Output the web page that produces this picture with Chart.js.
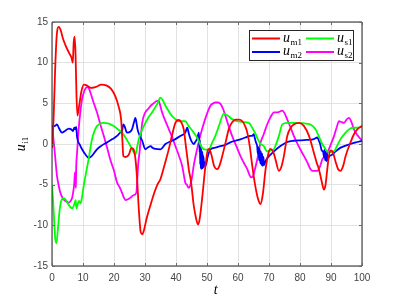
<!DOCTYPE html>
<html><head><meta charset="utf-8">
<script src="https://cdn.jsdelivr.net/npm/chart.js@4/dist/chart.umd.min.js"></script>
<style>html,body{margin:0;padding:0;background:#fff;}canvas{display:block;}</style>
</head><body>
<canvas id="c" width="399" height="299"></canvas>
<script>
const xTicks = [0,10,20,30,40,50,60,70,80,90,100];
const yTicks = [-15,-10,-5,0,5,10,15];
const seriesLabels = ['u_m1','u_s1','u_m2','u_s2'];
const xTitle = 't';
const yTitle = 'u_i1';

const tM1 = [0,0.5,1.0,1.5,2.2,2.8,3.5,4.5,5.5,6.3,6.7,7.0,7.3,7.6,7.9,8.2,8.8,9.5,10.3,11.2,12.5,14,16,17.5,19,20.5,21.5,22.3,22.7,23.0,23.8,24.8,25.6,26.2,26.8,27.4,28.0,28.6,29.1,29.6,30.5,31.7,33,34,35,36.5,37.7,38.8,39.8,40.9,41.8,42.5,43.2,43.7,44.2,44.8,45.7,46.5,47.1,47.6,48.4,49.0,49.5,50.1,50.7,51.4,52.3,53.3,54.1,54.9,56.0,57.0,58.0,59.2,60.3,61.4,62.3,63.0,63.8,64.6,65.5,66.5,67.3,68.0,68.9,69.6,70.4,71.3,72.1,73.2,74.0,74.8,75.9,77.0,78.0,79.7,81.3,82.9,84.5,85.3,86.1,87.0,87.7,88.2,88.8,89.3,89.9,90.6,91.5,92.3,93.1,94.0,94.7,96.3,97.4,98.5,100];
const uM1 = [-0.5,3,9,13.2,14.4,14.0,13.0,12.0,11.2,10.6,10.0,12.5,13.2,11,6,3.5,4.8,6.5,7.3,7.2,6.9,7.0,7.3,7.2,6.8,5.8,4.6,3.0,0.5,-1.5,-1.6,-1.3,-0.5,-0.6,-1.5,-4,-8,-10.8,-11.1,-10.7,-9.2,-7.6,-6,-5,-4.3,-2.3,-0.6,1.2,2.6,2.95,2.6,1.8,-0.3,-1.8,-3.3,-4.5,-7.5,-9.2,-9.9,-9.3,-6.8,-4.5,-2.7,-1.0,-0.6,-1.3,-2.7,-3.1,-2.6,-1.5,0.2,1.8,2.6,3.0,3.0,2.8,2.2,1.4,-0.3,-2.7,-5,-6.8,-7.4,-6.2,-3.1,-1.5,-0.6,-0.9,-1.9,-3.3,-2.8,-1.5,1.0,2.0,2.4,2.6,2.2,1.0,-1.1,-2.2,-3.1,-4.6,-5.6,-5.1,-3.1,-1.5,-0.8,-1.0,-2.2,-3.1,-3.3,-2.6,-1.5,0.2,1.2,1.8,2.2];

const tS1 = [0,0.5,1.0,1.4,1.9,2.5,3.2,4.0,4.8,5.6,6.5,7.2,7.6,7.9,8.3,8.7,9.2,9.7,10.2,11.0,11.8,12.9,13.7,14.5,15.5,16.7,18.3,19.9,21.3,22.6,24.0,25.3,26.2,26.9,27.4,28.0,28.8,29.6,31.0,32.3,33.9,35.0,35.7,36.6,37.7,38.8,40.0,40.9,43.0,44.1,45.5,46.8,48.4,49.5,50.6,51.6,52.7,54.0,55.4,56.2,57.0,58.3,59.7,61.5,63.5,64.6,65.7,66.5,67.3,68.3,69.4,70.5,71.6,72.4,73.2,74.3,75.9,78,80,82,83.4,85.0,86.0,87.2,88.0,88.8,90.0,91.0,92.0,93.1,94.5,95.8,97.0,98.5,100];
const uS1 = [-5,-8,-11.5,-12.2,-10.5,-8,-6.8,-6.7,-7.1,-7.6,-7.9,-7.4,-6.9,-7.9,-7.4,-7.0,-7.3,-6.5,-5.2,-3.5,-1.9,0.6,1.6,2.2,2.5,2.6,2.5,2.2,1.8,1.4,0.6,-0.25,-0.9,-1.3,-0.5,0.6,1.5,2.2,3.2,3.9,4.9,5.7,5.4,4.7,4.0,3.4,3.0,2.8,2.8,2.2,1.5,0.8,-0.45,-0.7,-0.65,0.1,1.0,2.4,3.7,3.6,3.4,3.0,2.8,2.7,2.6,2.0,1.2,0.5,0,-0.25,-0.9,-0.8,-0.65,0.1,1.0,2.4,2.6,2.6,2.6,2.5,2.4,1.8,1.0,0,-0.5,-0.9,-1.0,-0.9,-0.2,0.6,1.3,1.8,2.0,2.0,2.2];

const tM2 = [0,0.8,1.6,2.3,3.2,4.2,5.4,6.2,6.8,7.2,7.5,7.8,8.1,9.0,9.7,10.8,11.8,12.8,14.5,16.0,17.8,19.5,21.0,22.0,22.6,23.0,23.4,24.0,24.4,25.2,25.8,26.4,26.9,27.3,27.6,28.3,29.1,30.1,31.0,31.8,32.5,33.4,35.0,36.6,38.2,39.8,41.5,43.0,43.6,44.2,44.7,45.7,46.3,46.8,47.4,47.6,47.7,47.8,47.9,48.0,48.1,48.2,48.3,48.4,48.5,48.6,48.7,48.8,48.9,49.0,49.2,49.5,50.2,51.1,52.7,54.0,56.0,57.5,59.2,61.0,62.4,64.0,64.6,65.1,65.5,65.8,66.2,66.4,66.6,66.8,67.0,67.2,67.4,67.6,67.8,68.0,68.2,68.4,68.8,69.3,70.0,71.6,73.7,75.9,78,80.2,82,84.5,85.6,86.1,86.5,87.0,87.5,87.7,87.9,88.1,88.3,88.5,88.7,88.9,89.3,90.4,91.5,93.1,96.3,98,100];
const uM2 = [2.2,2.2,2.4,1.9,1.4,1.6,1.9,1.8,1.6,2.0,1.8,2.1,0.8,-0.1,-0.65,-1.3,-1.7,-1.5,-0.65,-0.2,0.2,0.6,1.0,1.4,1.6,2.4,2.2,1.5,1.4,1.5,1.8,2.6,3.2,2.5,1.8,1.0,0.4,-0.65,-0.4,-0.25,-0.5,-0.6,-0.65,0,0.3,0.6,1.0,1.4,2.0,1.2,0.6,0,0.3,0.6,1.4,-1.0,0.5,-2.5,0,-3.0,-0.5,-3.1,-0.8,-3.0,-1.0,-3.0,-1.3,-2.9,-1.6,-2.8,-2.2,-2.7,-1.6,-0.65,-0.45,-0.3,-0.1,0.2,0.4,0.6,0.8,1.0,1.0,1.2,0.6,0.2,-0.3,-1.2,-0.4,-2.0,-0.6,-2.4,-0.9,-2.6,-1.2,-2.7,-1.6,-2.6,-2.2,-1.8,-1.5,-0.9,-0.25,0.25,0.4,0.45,0.5,0.6,0.8,0.4,0,-0.8,-1.0,-1.6,-0.7,-2.0,-0.9,-2.1,-1.2,-2.0,-1.6,-1.3,-0.9,-0.45,0,0.2,0.4];

const tS2 = [0,0.5,1.0,1.6,2.2,2.7,3.5,4.3,5.4,6.0,6.5,7.0,7.2,7.4,7.6,7.7,7.8,8.1,8.6,9.1,9.7,10.5,11.3,11.8,12.5,13.5,14.5,15.6,16.7,17.8,18.8,20.0,21.0,21.8,22.6,23.2,23.7,24.5,25.3,26.3,27.2,27.5,27.8,28.3,28.6,29.1,30.1,31.0,31.8,32.8,33.9,34.4,35.0,35.5,36.5,37.7,38.8,39.8,41.0,42.0,43.0,43.5,44.1,44.6,45.2,45.7,46.3,47.3,48.4,49.7,51.1,52.0,52.7,53.5,54.4,55.2,56.0,57.0,58.1,59.5,60.8,62.0,63.0,63.6,64.2,64.8,65.4,66.2,67.3,68.3,69.4,70.5,71.6,72.8,74.3,75.0,75.9,77.0,78.0,79.6,81.3,82.4,83.4,84.0,85.6,86.4,87.2,88.0,88.8,90.0,91.0,91.8,92.6,93.4,94.2,95.0,95.8,96.6,97.4,98.5,99.6,100];
const uS2 = [2.2,0.5,-1.5,-3.9,-5.2,-6.0,-6.7,-7.0,-7.2,-7.0,-6.6,-5.5,-4.75,-3.5,-4.0,-5.4,-3.0,-1.0,1.8,3.8,5.5,6.6,7.0,6.9,6.2,5.0,3.9,2.4,1.0,-0.5,-1.9,-3.3,-4.75,-5.3,-6.0,-6.6,-6.9,-6.8,-6.6,-6.3,-6.0,-4.5,-2.5,-0.8,0.6,2.6,3.9,4.3,4.7,5.0,5.3,5.3,4.6,3.9,2.9,1.8,0.8,-0.25,-1.5,-2.7,-4.75,-5.0,-5.4,-5.1,-4.0,-2.7,-1.5,0.2,1.8,3.4,4.7,5.0,5.1,5.1,4.9,4.3,3.4,2.2,1.0,-0.3,-1.5,-2.4,-3.1,-3.7,-4.1,-4.0,-3.2,-1.9,0.2,1.2,2.4,3.3,3.9,3.9,4.1,3.8,3.0,2.0,1.0,-0.3,-1.5,-2.3,-3.1,-3.3,-3.3,-2.8,-1.9,-1.5,-1.1,0,1.0,2.0,2.8,2.7,2.6,3.0,3.2,2.7,1.8,1.1,0.6,0.5];

const seriesColors = ['#ff0000','#00ff00','#0000ff','#ff00ff'];

function pts(t, v){ return t.map((x,i)=>({x:x, y:v[i]})); }
const seriesData = [pts(tM1,uM1), pts(tS1,uS1), pts(tM2,uM2), pts(tS2,uS2)];

const AXC = '#262626';
const sansFont = "'Liberation Sans', Arial, sans-serif";
const serifFont = "'Liberation Serif', 'DejaVu Serif', serif";

function drawSubLabel(ctx, label, x, y, mainSize, subSize, subDrop, align){
  const parts = label.split('_');
  ctx.font = 'italic ' + mainSize + 'px ' + serifFont;
  const w1 = ctx.measureText(parts[0]).width;
  ctx.font = subSize + 'px ' + serifFont;
  const w2 = parts[1] ? ctx.measureText(parts[1]).width : 0;
  let x0 = x;
  if (align === 'center') x0 = x - (w1 + w2 + 0.5)/2;
  ctx.textAlign = 'left';
  ctx.textBaseline = 'alphabetic';
  ctx.font = 'italic ' + mainSize + 'px ' + serifFont;
  ctx.fillText(parts[0], x0, y);
  if (parts[1]) {
    ctx.font = subSize + 'px ' + serifFont;
    ctx.fillText(parts[1], x0 + w1 + 0.5, y + subDrop);
  }
}

const decor = {
  id: 'decor',
  afterDatasetsDraw(chart){
    const ctx = chart.ctx, a = chart.chartArea;
    const xs = chart.scales.x, ys = chart.scales.y;
    ctx.save();
    ctx.strokeStyle = AXC; ctx.lineWidth = 1;
    ctx.beginPath();
    ctx.rect(Math.round(a.left), Math.round(a.top), Math.round(a.right-a.left), Math.round(a.bottom-a.top));
    ctx.stroke();
    ctx.beginPath();
    xTicks.forEach(v=>{
      const px = Math.round(xs.getPixelForValue(v))+0.5;
      ctx.moveTo(px, a.bottom); ctx.lineTo(px, a.bottom-3);
      ctx.moveTo(px, a.top); ctx.lineTo(px, a.top+3);
    });
    yTicks.forEach(v=>{
      const py = Math.round(ys.getPixelForValue(v))+0.5;
      ctx.moveTo(a.left, py); ctx.lineTo(a.left+3, py);
      ctx.moveTo(a.right, py); ctx.lineTo(a.right-3, py);
    });
    ctx.strokeStyle = '#6a6a6a';
    ctx.stroke();

    // legend
    const bx=249.5, by=30.5, bw=104, bh=30;
    ctx.fillStyle='#ffffff'; ctx.fillRect(bx,by,bw,bh);
    ctx.strokeStyle='#262626'; ctx.lineWidth = 1; ctx.strokeRect(bx,by,bw,bh);
    const pos = [[252,38.5],[306,38.5],[252,52],[306,52]];
    chart.data.datasets.forEach((ds,i)=>{
      const [lx,ly] = pos[i];
      ctx.strokeStyle = ds.borderColor; ctx.lineWidth = 2;
      ctx.beginPath(); ctx.moveTo(lx,ly); ctx.lineTo(lx+28,ly); ctx.stroke();
      ctx.fillStyle = '#000';
      drawSubLabel(ctx, ds.label, lx+31, ly+3, 14, 9, 3, 'left');
    });

    // axis titles
    ctx.fillStyle = '#000';
    drawSubLabel(ctx, xTitle, 216, 294, 14, 9, 3, 'center');
    ctx.translate(25, 144);
    ctx.rotate(-Math.PI/2);
    drawSubLabel(ctx, yTitle, 0, 0, 14, 9, 3, 'center');
    ctx.restore();
  }
};

new Chart(document.getElementById('c'), {
  type: 'line',
  data: {
    datasets: seriesData.map((d,i)=>({
      label: seriesLabels[i],
      data: d,
      borderColor: seriesColors[i],
      backgroundColor: seriesColors[i],
      borderWidth: 1.8,
      pointRadius: 0,
      fill: false,
      cubicInterpolationMode: 'monotone'
    }))
  },
  options: {
    responsive: false,
    animation: false,
    events: [],
    layout: { padding: { top: 22, right: 37, left: 0, bottom: 0 } },
    plugins: { legend: { display: false }, tooltip: { enabled: false } },
    scales: {
      x: {
        type: 'linear', min: 0, max: 100,
        afterBuildTicks: s => { s.ticks = xTicks.map(v=>({value:v})); },
        afterFit: s => { s.height = 33; },
        grid: { color: '#e2e2e2', drawTicks: false },
        border: { display: false },
        ticks: { padding: 6, color: '#444', font: { family: sansFont, size: 10 }, maxRotation: 0 }
      },
      y: {
        type: 'linear', min: -15, max: 15,
        afterBuildTicks: s => { s.ticks = yTicks.map(v=>({value:v})); },
        afterFit: s => { s.width = 52; },
        grid: { color: '#e2e2e2', drawTicks: false },
        border: { display: false },
        ticks: { padding: 4, color: '#444', font: { family: sansFont, size: 10 } }
      }
    }
  },
  plugins: [decor]
});
</script>
</body></html>
